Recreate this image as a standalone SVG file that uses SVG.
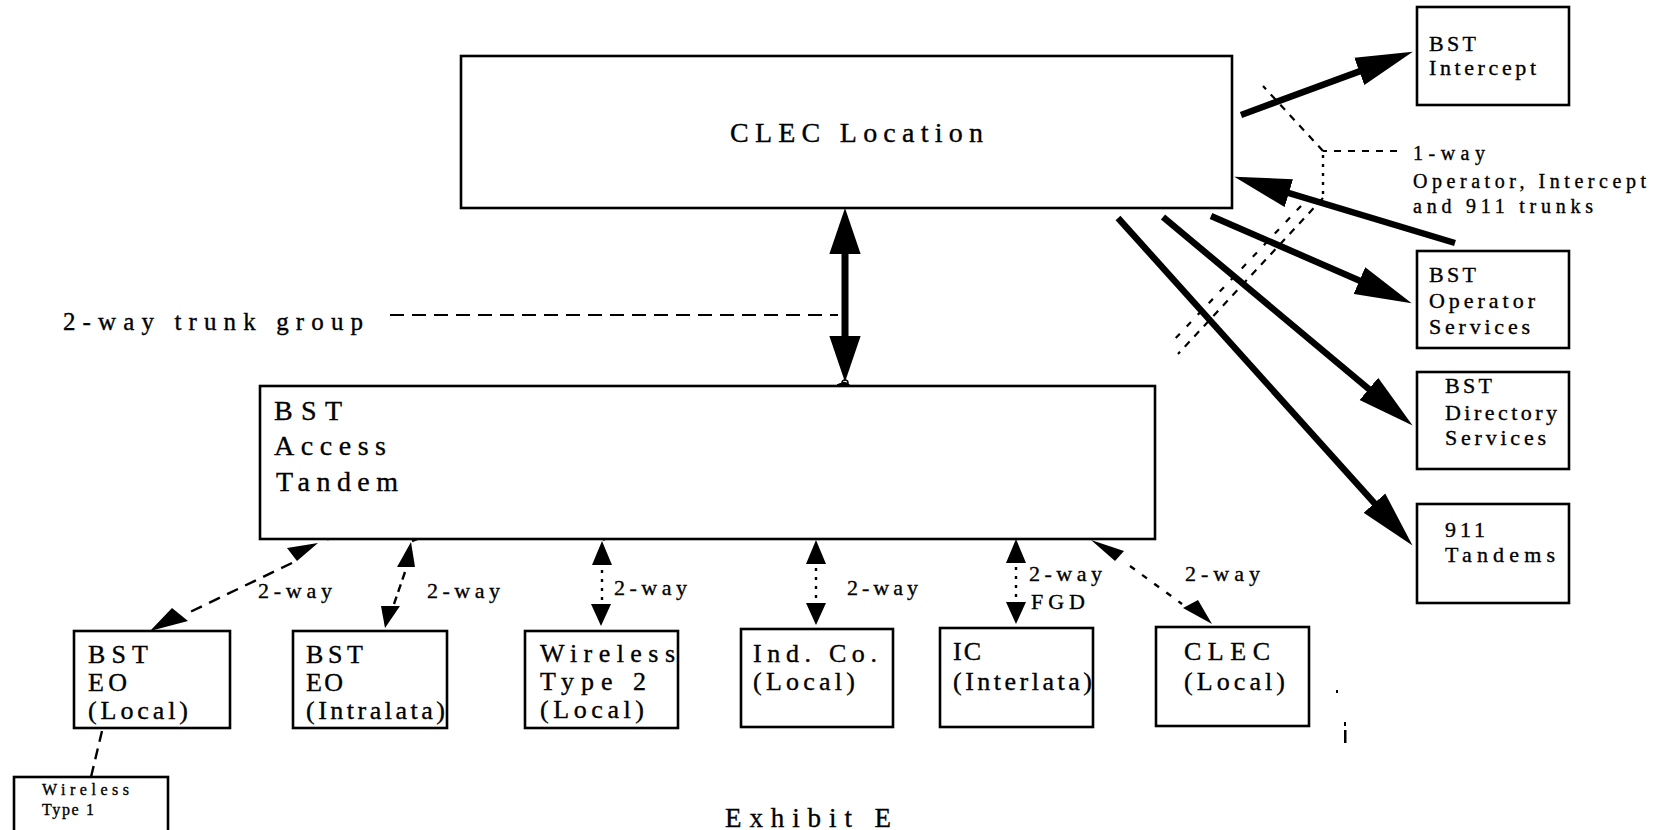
<svg xmlns="http://www.w3.org/2000/svg" width="1658" height="830" viewBox="0 0 1658 830">
<style>
  .box{fill:#fff;stroke:#000;stroke-width:2.6}
  .t{font-family:"Liberation Serif","DejaVu Serif","Times New Roman",serif;fill:#000;stroke:#000;stroke-width:0.35}
  .thick{fill:none;stroke:#000;stroke-width:6.5}
  .dash{fill:none;stroke:#000;stroke-width:2.4;stroke-dasharray:8 5}
  .dot{fill:none;stroke:#000;stroke-width:2.4;stroke-dasharray:3 6}
  .ldash{fill:none;stroke:#000;stroke-width:2;stroke-dasharray:14 8}
  .sdash{fill:none;stroke:#000;stroke-width:2.2;stroke-dasharray:7 7}
  .head{fill:#000;stroke:none}
</style>
<defs>
  <marker id="big" markerUnits="userSpaceOnUse" markerWidth="57" markerHeight="30" viewBox="0 0 55 28" refX="33" refY="14" orient="auto">
    <path d="M0,0 L55,14 L0,28 Z" fill="#000"/>
  </marker>
  <marker id="mid" markerUnits="userSpaceOnUse" markerWidth="46" markerHeight="32" viewBox="0 0 44 30" refX="24" refY="15" orient="auto-start-reverse">
    <path d="M0,0 L44,15 L0,30 Z" fill="#000"/>
  </marker>
  <path id="dn" d="M-10,-22 L10,-22 L0,0 Z"/>
  <path id="up" d="M-10,24 L10,24 L0,0 Z"/>
</defs>
<rect width="1658" height="830" fill="#fff"/>

<g id="connectors">
  <path class="ldash" d="M390,315 H838"/>
  <line x1="845" y1="229" x2="845" y2="361" stroke="#000" stroke-width="7" marker-start="url(#mid)" marker-end="url(#mid)"/>
  <line class="thick" x1="1241" y1="115" x2="1391.4" y2="59.6" marker-end="url(#big)"/>
  <line class="thick" x1="1455" y1="243" x2="1256.1" y2="183.3" marker-end="url(#big)"/>
  <line class="thick" x1="1211" y1="216" x2="1390.8" y2="294.2" marker-end="url(#big)"/>
  <line class="thick" x1="1163" y1="217" x2="1395.1" y2="410.9" marker-end="url(#big)"/>
  <line class="thick" x1="1118" y1="218" x2="1397.3" y2="528.6" marker-end="url(#big)"/>
  <path class="sdash" d="M1397,151 H1323"/>
  <path class="sdash" d="M1323,151 L1263,86"/>
  <path class="dot" d="M1323,155 V200"/>
  <path class="sdash" d="M1323,198 L1178,354"/>
  <path class="sdash" d="M1301,206 L1172,342" style="stroke-dasharray:6 10"/>
  <circle cx="845" cy="383" r="3" fill="#fff" stroke="#000" stroke-width="1.5"/>
  <path class="dash" d="M845,383 L325,540"/>
  <path class="dash" d="M845,383 L412,541"/>
  <path class="dash" d="M845,383 L603,540"/>
  <path class="dash" d="M845,383 L818,540"/>
  <path class="dash" d="M845,383 L1015,539"/>
  <path class="dash" d="M845,383 L1088,537"/>
  <polygon class="head" points="287,548 318,543 297,561"/>
  <path class="dash" d="M292,563 L188,613" style="stroke-dasharray:12 8"/>
  <polygon class="head" points="150,631 172,608 188,621"/>
  <polygon class="head" points="411,542 397,567 415,567"/>
  <path class="dash" d="M405,572 L394,604"/>
  <polygon class="head" points="381,606 400,606 385,628"/>
  <use href="#up" x="602" y="541" class="head"/>
  <path class="dot" d="M602,570 V603"/>
  <use href="#dn" x="601" y="626" class="head"/>
  <use href="#up" x="816" y="540" class="head"/>
  <path class="dot" d="M816,568 V601"/>
  <use href="#dn" x="816" y="625" class="head"/>
  <use href="#up" x="1016" y="539" class="head"/>
  <path class="dot" d="M1016,567 V599"/>
  <use href="#dn" x="1016" y="624" class="head"/>
  <polygon class="head" points="1091,540 1124,551 1115,561"/>
  <path class="dash" d="M1130,566 L1182,604" style="stroke-dasharray:6 9"/>
  <polygon class="head" points="1183,608 1198,600 1212,624"/>
  <path class="dash" d="M102,731 L91,777" style="stroke-dasharray:11 7"/>
</g>

<g id="clec-location">
  <rect class="box" x="461" y="56" width="771" height="152"/>
  <text class="t" x="730" y="142" font-size="28" textLength="253" lengthAdjust="spacing">CLEC Location</text>
</g>

<g id="trunk-label">
  <text class="t" x="63" y="330" font-size="25" textLength="300" lengthAdjust="spacing">2-way trunk group</text>
</g>

<g id="bst-access-tandem">
  <rect class="box" x="260" y="386" width="895" height="153"/>
  <text class="t" x="274" y="420" font-size="28" textLength="68" lengthAdjust="spacing">BST</text>
  <text class="t" x="274" y="455" font-size="28" textLength="112" lengthAdjust="spacing">Access</text>
  <text class="t" x="276" y="491" font-size="28" textLength="122" lengthAdjust="spacing">Tandem</text>
</g>

<g id="bst-intercept">
  <rect class="box" x="1417" y="7" width="152" height="98"/>
  <text class="t" x="1429" y="51" font-size="22" textLength="47" lengthAdjust="spacing">BST</text>
  <text class="t" x="1429" y="75" font-size="22" textLength="107" lengthAdjust="spacing">Intercept</text>
</g>

<g id="one-way-label">
  <text class="t" x="1413" y="160" font-size="20" textLength="72" lengthAdjust="spacing">1-way</text>
  <text class="t" x="1413" y="188" font-size="20" textLength="233" lengthAdjust="spacing">Operator, Intercept</text>
  <text class="t" x="1413" y="213" font-size="20" textLength="180" lengthAdjust="spacing">and 911 trunks</text>
</g>

<g id="bst-operator-services">
  <rect class="box" x="1417" y="251" width="152" height="97"/>
  <text class="t" x="1429" y="282" font-size="22" textLength="47" lengthAdjust="spacing">BST</text>
  <text class="t" x="1429" y="308" font-size="22" textLength="106" lengthAdjust="spacing">Operator</text>
  <text class="t" x="1429" y="334" font-size="22" textLength="101" lengthAdjust="spacing">Services</text>
</g>

<g id="bst-directory-services">
  <rect class="box" x="1417" y="372" width="152" height="97"/>
  <text class="t" x="1445" y="393" font-size="22" textLength="47" lengthAdjust="spacing">BST</text>
  <text class="t" x="1445" y="420" font-size="22" textLength="112" lengthAdjust="spacing">Directory</text>
  <text class="t" x="1445" y="445" font-size="22" textLength="101" lengthAdjust="spacing">Services</text>
</g>

<g id="tandems-911">
  <rect class="box" x="1417" y="504" width="152" height="99"/>
  <text class="t" x="1445" y="537" font-size="22" textLength="40" lengthAdjust="spacing">911</text>
  <text class="t" x="1445" y="562" font-size="22" textLength="110" lengthAdjust="spacing">Tandems</text>
</g>

<g id="labels-2way">
  <text class="t" x="258" y="598" font-size="22" textLength="74" lengthAdjust="spacing">2-way</text>
  <text class="t" x="427" y="598" font-size="22" textLength="73" lengthAdjust="spacing">2-way</text>
  <text class="t" x="614" y="595" font-size="22" textLength="73" lengthAdjust="spacing">2-way</text>
  <text class="t" x="847" y="595" font-size="22" textLength="71" lengthAdjust="spacing">2-way</text>
  <text class="t" x="1029" y="581" font-size="22" textLength="73" lengthAdjust="spacing">2-way</text>
  <text class="t" x="1031" y="609" font-size="22" textLength="54" lengthAdjust="spacing">FGD</text>
  <text class="t" x="1185" y="581" font-size="22" textLength="75" lengthAdjust="spacing">2-way</text>
</g>

<g id="bst-eo-local">
  <rect class="box" x="74" y="631" width="156" height="97"/>
  <text class="t" x="88" y="663" font-size="26" textLength="60" lengthAdjust="spacing">BST</text>
  <text class="t" x="88" y="691" font-size="26" textLength="39" lengthAdjust="spacing">EO</text>
  <text class="t" x="88" y="719" font-size="26" textLength="100" lengthAdjust="spacing">(Local)</text>
</g>

<g id="bst-eo-intralata">
  <rect class="box" x="293" y="631" width="154" height="97"/>
  <text class="t" x="306" y="663" font-size="26" textLength="57" lengthAdjust="spacing">BST</text>
  <text class="t" x="306" y="691" font-size="26" textLength="37" lengthAdjust="spacing">EO</text>
  <text class="t" x="306" y="719" font-size="26" textLength="139" lengthAdjust="spacing">(Intralata)</text>
</g>

<g id="wireless-type-2">
  <rect class="box" x="525" y="631" width="153" height="97"/>
  <text class="t" x="540" y="662" font-size="26" textLength="135" lengthAdjust="spacing">Wireless</text>
  <text class="t" x="540" y="690" font-size="26" textLength="106" lengthAdjust="spacing">Type 2</text>
  <text class="t" x="540" y="718" font-size="26" textLength="104" lengthAdjust="spacing">(Local)</text>
</g>

<g id="ind-co-local">
  <rect class="box" x="741" y="629" width="152" height="98"/>
  <text class="t" x="753" y="662" font-size="26" textLength="124" lengthAdjust="spacing">Ind. Co.</text>
  <text class="t" x="753" y="690" font-size="26" textLength="102" lengthAdjust="spacing">(Local)</text>
</g>

<g id="ic-interlata">
  <rect class="box" x="940" y="628" width="153" height="99"/>
  <text class="t" x="953" y="660" font-size="26" textLength="28" lengthAdjust="spacing">IC</text>
  <text class="t" x="953" y="690" font-size="26" textLength="139" lengthAdjust="spacing">(Interlata)</text>
</g>

<g id="clec-local">
  <rect class="box" x="1156" y="627" width="153" height="99"/>
  <text class="t" x="1184" y="660" font-size="26" textLength="86" lengthAdjust="spacing">CLEC</text>
  <text class="t" x="1184" y="690" font-size="26" textLength="101" lengthAdjust="spacing">(Local)</text>
</g>

<g id="wireless-type-1">
  <rect class="box" x="14" y="777" width="154" height="62"/>
  <text class="t" x="42" y="795" font-size="16" textLength="87" lengthAdjust="spacing">Wireless</text>
  <text class="t" x="42" y="815" font-size="16" textLength="52" lengthAdjust="spacing">Type 1</text>
</g>

<g id="specks">
  <rect x="1336" y="690" width="2" height="3" fill="#000"/>
  <rect x="1344" y="722" width="2" height="4" fill="#000"/>
  <rect x="1344" y="730" width="2.5" height="13" fill="#000"/>
</g>

<g id="caption">
  <text class="t" x="725" y="827" font-size="27" textLength="166" lengthAdjust="spacing">Exhibit E</text>
</g>
</svg>
